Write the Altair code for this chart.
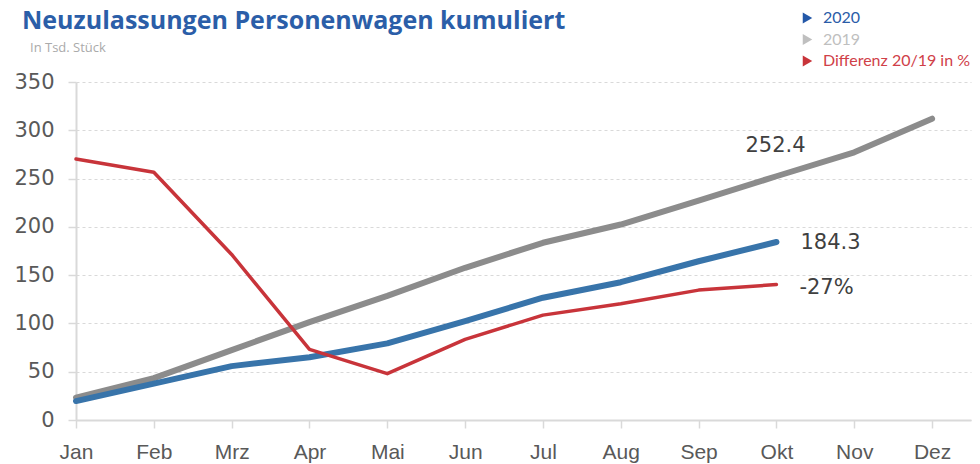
import altair as alt
import pandas as pd

months = ["Jan", "Feb", "Mrz", "Apr", "Mai", "Jun", "Jul", "Aug", "Sep", "Okt", "Nov", "Dez"]
v2020 = [19.6, 37.6, 55.8, 65.0, 79.3, 102.5, 126.6, 142.7, 164.4, 184.3]
v2019 = [23.2, 43.4, 72.4, 101.4, 128.5, 157.6, 183.5, 202.4, 227.2, 252.4, 277.2, 312.0]
vdiff = [270.3, 256.5, 171.4, 73.1, 48.0, 83.5, 108.6, 120.4, 134.5, 140.3]

series = ["2019", "2020", "Differenz 20/19 in %"]
colors = ["#8C8C8C", "#3874AA", "#C8343A"]
widths = [6, 6, 3.5]
legend_colors = ["#2A5CA8", "#BFBFBF", "#D04048"]
legend_tri = ["#2458A8", "#BFBFBF", "#C8343A"]
legend_labels = ["2020", "2019", "Differenz 20/19 in %"]
end_labels = ["252.4", "184.3", "-27%"]

title_text = "Neuzulassungen Personenwagen kumuliert"
subtitle_text = "In Tsd. Stück"

rows = []
for name, vals in zip(series, [v2019, v2020, vdiff]):
    for i, v in enumerate(vals):
        rows.append({"idx": i, "month": months[i], "value": v, "series": name})
df = pd.DataFrame(rows)

W, H = 895, 338
label_expr = "[" + ",".join(f"'{m}'" for m in months) + "][datum.value]"

x_enc = alt.X(
    "idx:Q",
    scale=alt.Scale(domain=[0, 11.5], nice=False, zero=False),
    axis=alt.Axis(
        values=list(range(12)), labelExpr=label_expr, grid=False, title=None,
        domainColor="#D9D9D9", domainWidth=2, tickColor="#D9D9D9", tickWidth=1.5,
        tickSize=8, labelPadding=13, labelFont="Liberation Sans", labelFontSize=21,
        labelColor="#595959", labelFlush=False,
    ),
)
y_enc = alt.Y(
    "value:Q",
    scale=alt.Scale(domain=[0, 350], nice=False),
    axis=alt.Axis(
        values=list(range(0, 351, 50)), title=None, grid=True, gridDash=[3, 3],
        gridColor="#D9D9D9", gridWidth=1, domainColor="#D9D9D9", domainWidth=2,
        tickColor="#D9D9D9", tickWidth=1.5, tickSize=8, labelPadding=14,
        labelFont="DejaVu Sans", labelFontSize=21, labelColor="#595959",
    ),
)

layers = []
for name, c, w in zip(series, colors, widths):
    layers.append(
        alt.Chart(df[df.series == name]).mark_line(
            color=c, strokeWidth=w, strokeCap="round", strokeJoin="round"
        ).encode(x=x_enc, y=y_enc)
    )

# End-value labels at Okt
lab_rows = [
    {"idx": 9, "value": v2019[9], "text": end_labels[0]},
    {"idx": 9, "value": v2020[9], "text": end_labels[1]},
    {"idx": 9, "value": vdiff[9], "text": end_labels[2]},
]
offsets = [(-31, -30, "left"), (24, 1, "left"), (23, 3, "left")]
for r, (dx, dy, al) in zip(lab_rows, offsets):
    layers.append(
        alt.Chart(pd.DataFrame([r])).mark_text(
            align=al, baseline="middle", dx=dx, dy=dy, font="DejaVu Sans",
            fontSize=21, color="#404040",
        ).encode(x="idx:Q", y="value:Q", text="text:N")
    )

# Title and subtitle (decoration, outside plot area)
layers.append(
    alt.Chart(pd.DataFrame({"t": [title_text]})).mark_text(
        align="left", baseline="alphabetic", font="Open Sans", fontSize=25,
        fontWeight=700, color="#2B5EA8",
    ).encode(x=alt.value(-54), y=alt.value(-53), text="t:N")
)
layers.append(
    alt.Chart(pd.DataFrame({"t": [subtitle_text]})).mark_text(
        align="left", baseline="alphabetic", font="Open Sans", fontSize=13,
        color="#AAAAAA",
    ).encode(x=alt.value(-46), y=alt.value(-30.5), text="t:N")
)

# Legend
for k, (lab, tc, lc) in enumerate(zip(legend_labels, legend_tri, legend_colors)):
    yy = -64 + k * 21.5
    layers.append(
        alt.Chart(pd.DataFrame({"t": [lab]})).mark_point(
            shape="triangle-right", filled=True, size=120, color=tc, opacity=1
        ).encode(x=alt.value(731.5), y=alt.value(yy))
    )
    layers.append(
        alt.Chart(pd.DataFrame({"t": [lab]})).mark_text(
            align="left", baseline="middle", font="Lato", fontSize=16, color=lc,
        ).encode(x=alt.value(747), y=alt.value(yy), text="t:N")
    )

chart = alt.layer(*layers).properties(
    width=W, height=H,
    autosize=alt.AutoSizeParams(type="none"),
    padding={"left": 68, "top": 74, "right": 1, "bottom": 44},
).configure_view(stroke=None)

chart.save("out.html", embed_options={"renderer": "svg", "actions": False})
